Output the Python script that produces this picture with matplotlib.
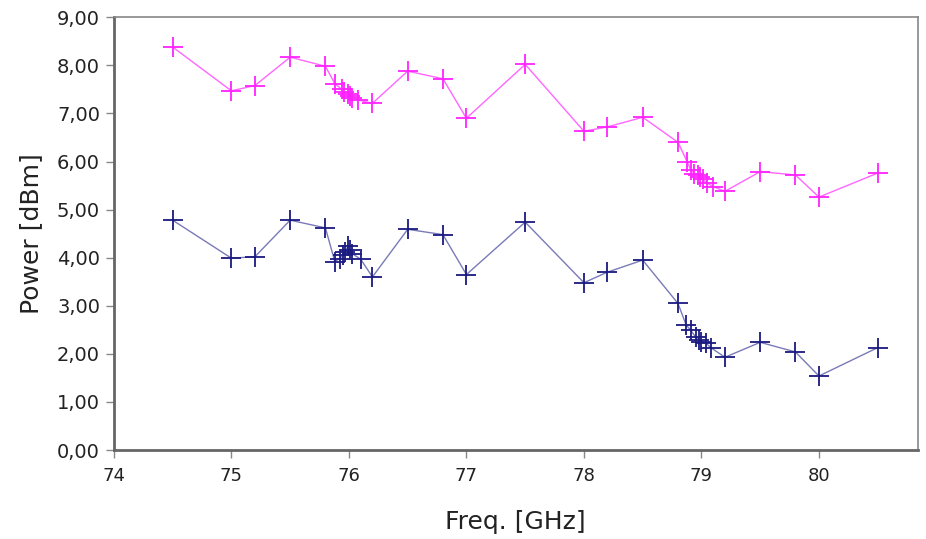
import matplotlib
matplotlib.use("Agg")
import matplotlib.pyplot as plt
from matplotlib.ticker import FuncFormatter

freq_upper = [74.5, 75.0, 75.2, 75.5, 75.8, 75.88, 75.94, 75.96, 75.99, 76.01, 76.03, 76.08,
              76.2, 76.5, 76.8, 77.0, 77.5, 78.0, 78.2, 78.5, 78.8, 78.88, 78.91, 78.94,
              78.97, 78.99, 79.01, 79.05, 79.1, 79.2, 79.5, 79.8, 80.0, 80.5]
power_upper = [8.38, 7.47, 7.58, 8.17, 7.98, 7.62, 7.50, 7.45, 7.41, 7.36, 7.33, 7.28,
               7.21, 7.88, 7.72, 6.90, 8.02, 6.63, 6.72, 6.92, 6.40, 5.99, 5.82, 5.75,
               5.72, 5.68, 5.63, 5.55, 5.48, 5.38, 5.79, 5.72, 5.26, 5.76]

freq_lower = [74.5, 75.0, 75.2, 75.5, 75.8, 75.88, 75.92, 75.95, 75.97, 75.99, 76.01, 76.03,
              76.1, 76.2, 76.5, 76.8, 77.0, 77.5, 78.0, 78.2, 78.5, 78.8, 78.87, 78.91,
              78.95, 78.98, 79.0, 79.04, 79.08, 79.2, 79.5, 79.8, 80.0, 80.5]
power_lower = [4.78, 3.99, 4.02, 4.78, 4.62, 3.92, 3.98, 4.05, 4.12, 4.24, 4.15, 4.08,
               3.97, 3.60, 4.59, 4.48, 3.65, 4.74, 3.48, 3.70, 3.95, 3.05, 2.60, 2.49,
               2.35, 2.29, 2.25, 2.22, 2.13, 1.93, 2.24, 2.04, 1.54, 2.13]

x_ticks = [74, 75, 76, 77, 78, 79, 80]
y_ticks = [0, 1, 2, 3, 4, 5, 6, 7, 8, 9]

fig = plt.figure(figsize=(9.26, 5.39), dpi=100)
ax = fig.add_axes([0.123, 0.165, 0.868, 0.803])

ax.plot(freq_upper, power_upper, color="#ff66ff", lw=1.0, zorder=2)
ax.plot(freq_upper, power_upper, ls="none", marker="+", ms=14, mew=1.3, color="#ff22ff", zorder=3)
ax.plot(freq_lower, power_lower, color="#7a7ab8", lw=1.0, zorder=2)
ax.plot(freq_lower, power_lower, ls="none", marker="+", ms=14, mew=1.3, color="#1a1a80", zorder=3)

ax.set_xlim(74, 80.84)
ax.set_ylim(0, 9)
ax.set_xticks(x_ticks)
ax.set_yticks(y_ticks)
ax.yaxis.set_major_formatter(FuncFormatter(lambda v, p: f"{v:.2f}".replace(".", ",")))
ax.tick_params(axis="y", labelsize=14, colors="#222222", length=6, width=1.0, direction="out", pad=4)
ax.tick_params(axis="x", labelsize=13, colors="#222222", length=6, width=1.0, direction="out", pad=6)
ax.tick_params(axis="both", color="#888888")

for side in ["left", "bottom"]:
    ax.spines[side].set_color("#666666")
    ax.spines[side].set_linewidth(2.0)
for side in ["top", "right"]:
    ax.spines[side].set_color("#888888")
    ax.spines[side].set_linewidth(1.2)

ax.set_xlabel("Freq. [GHz]", fontsize=18, color="#222222", labelpad=18)
ax.set_ylabel("Power [dBm]", fontsize=18, color="#222222", labelpad=10)

fig.savefig("out.png", dpi=100)
